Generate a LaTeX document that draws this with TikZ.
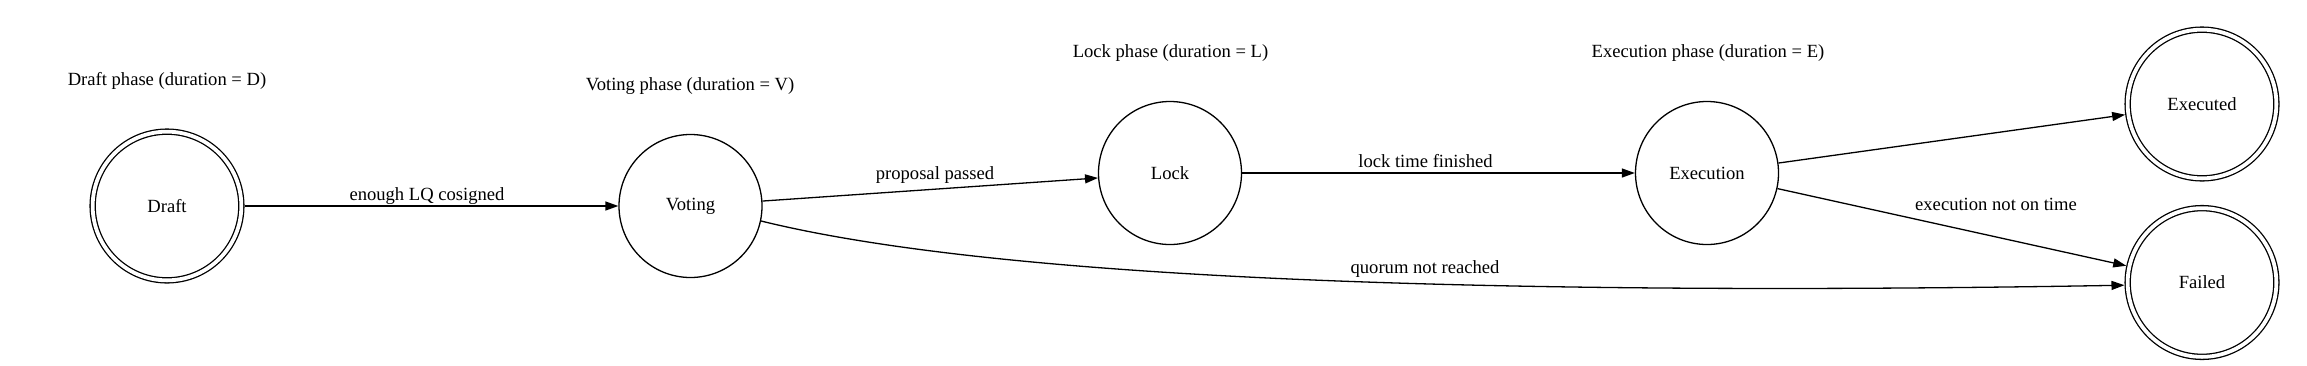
\documentclass[tikz,border=0pt]{standalone}
\usepackage{fontspec}
\setmainfont{Liberation Serif}
\usetikzlibrary{arrows.meta}
\begin{document}
\begin{tikzpicture}[x=1pt,y=-1pt,
  every node/.style={font=\fontsize{18.6}{22}\selectfont},
  state/.style={circle, draw, line width=1.3pt, minimum size=143pt, inner sep=0pt},
  final/.style={circle, draw, line width=1.3pt, double, double distance=3.8pt, minimum size=148.7pt, inner sep=0pt, outer sep=3.25pt},
  lbl/.style={anchor=base, inner sep=0pt},
  edge/.style={line width=1.3pt, -{Triangle[length=13pt,width=9pt]}}
]
\useasboundingbox (0,0) rectangle (2307,365);

% phase titles
\node[lbl] (tdraft) at (167,85.3) {Draft phase (duration = D)};
\node[lbl] (tvoting) at (690,90.3) {Voting phase (duration = V)};
\node[lbl] (tlock) at (1170.5,57.3) {Lock phase (duration = L)};
\node[lbl] (texec) at (1708,57.3) {Execution phase (duration = E)};

% states
\node[final] (draft) at (167,206) {Draft};
\node[state] (voting) at (690.5,206) {Voting};
\node[state] (lock) at (1170,173) {Lock};
\node[state] (execution) at (1707,173) {Execution};
\node[final] (executed) at (2202,104) {Executed};
\node[final] (failed) at (2202,282.5) {Failed};

% edges
\draw[edge] (draft) -- (voting);
\draw[edge] (voting) -- (lock);
\draw[edge] (lock) -- (execution);
\draw[edge] (execution) -- (executed);
\draw[edge] (execution) -- (failed);
\draw[edge] (voting.-12) .. controls (1000,280) and (1500,296) .. (failed.182);

% edge labels
\node[lbl] (l1) at (427,200.3) {enough LQ cosigned};
\node[lbl] (l2) at (935,179.3) {proposal passed};
\node[lbl] (l3) at (1425.5,167.3) {lock time finished};
\node[lbl] (l4) at (1425,273.5) {quorum not reached};
\node[lbl] (l5) at (1996,210.3) {execution not on time};
\end{tikzpicture}
\end{document}
